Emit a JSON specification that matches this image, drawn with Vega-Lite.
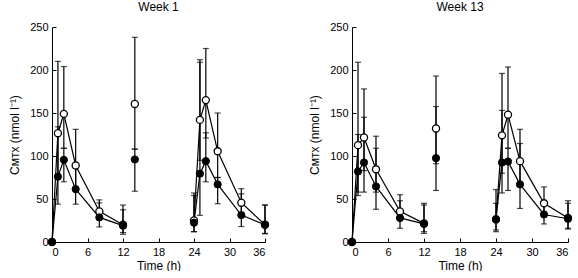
{
  "$schema": "https://vega.github.io/schema/vega-lite/v6.json",
  "padding": {"left": 8, "top": 1, "right": 0, "bottom": 0},
  "background": "white",
  "bounds": "flush",
  "spacing": 87,
  "config": {
    "font": "Liberation Sans",
    "view": {"stroke": null},
    "axis": {"labelFont": "Liberation Sans", "labelFontSize": 11, "labelColor": "black", "titleFont": "Liberation Sans", "titleFontSize": 12, "titleFontWeight": "normal", "titleColor": "black", "domainColor": "black", "tickColor": "black", "grid": false, "domainWidth": 1, "tickWidth": 1},
    "title": {"font": "Liberation Sans", "fontSize": 12, "fontWeight": "normal", "color": "black", "offset": 7}
  },
  "data": {"values": [
    {"week": "Week 1", "grp": "O", "t": 0, "v": 0, "lo": null, "hi": null, "seg": "O1"},
    {"week": "Week 1", "grp": "O", "t": 1, "v": 126.5, "lo": 76, "hi": 210, "seg": "O1"},
    {"week": "Week 1", "grp": "O", "t": 2, "v": 149, "lo": 109, "hi": 204, "seg": "O1"},
    {"week": "Week 1", "grp": "O", "t": 4, "v": 89, "lo": 61, "hi": 131, "seg": "O1"},
    {"week": "Week 1", "grp": "O", "t": 8, "v": 35.6, "lo": 28, "hi": 49, "seg": "O1"},
    {"week": "Week 1", "grp": "O", "t": 12, "v": 20, "lo": 9, "hi": 43, "seg": "O1"},
    {"week": "Week 1", "grp": "O", "t": 14, "v": 160.5, "lo": 108, "hi": 238, "seg": "O2"},
    {"week": "Week 1", "grp": "O", "t": 24, "v": 25, "lo": 12, "hi": 57, "seg": "O3"},
    {"week": "Week 1", "grp": "O", "t": 25, "v": 142, "lo": 95, "hi": 212, "seg": "O3"},
    {"week": "Week 1", "grp": "O", "t": 26, "v": 165, "lo": 121, "hi": 225, "seg": "O3"},
    {"week": "Week 1", "grp": "O", "t": 28, "v": 105.5, "lo": 75, "hi": 150, "seg": "O3"},
    {"week": "Week 1", "grp": "O", "t": 32, "v": 45.7, "lo": 32, "hi": 62, "seg": "O3"},
    {"week": "Week 1", "grp": "O", "t": 36, "v": 20, "lo": 9.5, "hi": 43, "seg": "O3"},
    {"week": "Week 1", "grp": "F", "t": 0, "v": 0, "lo": null, "hi": null, "seg": "F1"},
    {"week": "Week 1", "grp": "F", "t": 1, "v": 76, "lo": 44, "hi": 134, "seg": "F1"},
    {"week": "Week 1", "grp": "F", "t": 2, "v": 95.5, "lo": 70, "hi": 109, "seg": "F1"},
    {"week": "Week 1", "grp": "F", "t": 4, "v": 61.5, "lo": 44, "hi": 86, "seg": "F1"},
    {"week": "Week 1", "grp": "F", "t": 8, "v": 28.6, "lo": 17.5, "hi": 45.5, "seg": "F1"},
    {"week": "Week 1", "grp": "F", "t": 12, "v": 19, "lo": 11, "hi": 37.5, "seg": "F1"},
    {"week": "Week 1", "grp": "F", "t": 14, "v": 96, "lo": 59, "hi": 108, "seg": "F2"},
    {"week": "Week 1", "grp": "F", "t": 24, "v": 22.5, "lo": 12, "hi": 54, "seg": "F3"},
    {"week": "Week 1", "grp": "F", "t": 25, "v": 79.5, "lo": 31, "hi": 209, "seg": "F3"},
    {"week": "Week 1", "grp": "F", "t": 26, "v": 94, "lo": 70, "hi": 127, "seg": "F3"},
    {"week": "Week 1", "grp": "F", "t": 28, "v": 67, "lo": 44.5, "hi": 75, "seg": "F3"},
    {"week": "Week 1", "grp": "F", "t": 32, "v": 31.3, "lo": 18, "hi": 56, "seg": "F3"},
    {"week": "Week 1", "grp": "F", "t": 36, "v": 20, "lo": 10, "hi": 43, "seg": "F3"},
    {"week": "Week 13", "grp": "O", "t": 0, "v": 0, "lo": null, "hi": null, "seg": "O1"},
    {"week": "Week 13", "grp": "O", "t": 1, "v": 112.6, "lo": 58, "hi": 209, "seg": "O1"},
    {"week": "Week 13", "grp": "O", "t": 2, "v": 121.5, "lo": 83, "hi": 178, "seg": "O1"},
    {"week": "Week 13", "grp": "O", "t": 4, "v": 84.5, "lo": 58, "hi": 123, "seg": "O1"},
    {"week": "Week 13", "grp": "O", "t": 8, "v": 35.6, "lo": 25, "hi": 55, "seg": "O1"},
    {"week": "Week 13", "grp": "O", "t": 12, "v": 21.7, "lo": 10, "hi": 45, "seg": "O1"},
    {"week": "Week 13", "grp": "O", "t": 14, "v": 132, "lo": 91, "hi": 193, "seg": "O2"},
    {"week": "Week 13", "grp": "O", "t": 24, "v": 26, "lo": 12, "hi": 61, "seg": "O3"},
    {"week": "Week 13", "grp": "O", "t": 25, "v": 124, "lo": 80, "hi": 196, "seg": "O3"},
    {"week": "Week 13", "grp": "O", "t": 26, "v": 148, "lo": 109, "hi": 203.5, "seg": "O3"},
    {"week": "Week 13", "grp": "O", "t": 28, "v": 94, "lo": 67, "hi": 131, "seg": "O3"},
    {"week": "Week 13", "grp": "O", "t": 32, "v": 45, "lo": 32, "hi": 64, "seg": "O3"},
    {"week": "Week 13", "grp": "O", "t": 36, "v": 28, "lo": 15, "hi": 48, "seg": "O3"},
    {"week": "Week 13", "grp": "F", "t": 0, "v": 0, "lo": null, "hi": null, "seg": "F1"},
    {"week": "Week 13", "grp": "F", "t": 1, "v": 82, "lo": 54, "hi": 125, "seg": "F1"},
    {"week": "Week 13", "grp": "F", "t": 2, "v": 92.4, "lo": 58, "hi": 145, "seg": "F1"},
    {"week": "Week 13", "grp": "F", "t": 4, "v": 64.6, "lo": 38, "hi": 109, "seg": "F1"},
    {"week": "Week 13", "grp": "F", "t": 8, "v": 28, "lo": 16, "hi": 48, "seg": "F1"},
    {"week": "Week 13", "grp": "F", "t": 12, "v": 21, "lo": 12, "hi": 43, "seg": "F1"},
    {"week": "Week 13", "grp": "F", "t": 14, "v": 97.5, "lo": 60, "hi": 157.5, "seg": "F2"},
    {"week": "Week 13", "grp": "F", "t": 24, "v": 26.7, "lo": 14, "hi": 45, "seg": "F3"},
    {"week": "Week 13", "grp": "F", "t": 25, "v": 92.4, "lo": 57, "hi": 153, "seg": "F3"},
    {"week": "Week 13", "grp": "F", "t": 26, "v": 93.6, "lo": 60, "hi": 109, "seg": "F3"},
    {"week": "Week 13", "grp": "F", "t": 28, "v": 67, "lo": 39, "hi": 114.5, "seg": "F3"},
    {"week": "Week 13", "grp": "F", "t": 32, "v": 32, "lo": 21, "hi": 45, "seg": "F3"},
    {"week": "Week 13", "grp": "F", "t": 36, "v": 27, "lo": 16, "hi": 45, "seg": "F3"}
  ]},
  "hconcat": [
    {
      "title": "Week 1",
      "width": 213, "height": 215,
      "transform": [{"filter": "datum.week === 'Week 1'"}],
      "encoding": {
        "x": {"field": "t", "type": "quantitative", "scale": {"domain": [0, 36], "nice": false}, "axis": {"title": "Time (h)", "values": [0, 6, 12, 18, 24, 30, 36], "tickSize": -4, "labelPadding": 8, "titlePadding": 3}}
      },
      "layer": [
        {"mark": {"type": "rule", "color": "black", "strokeWidth": 1.2}, "encoding": {"y": {"field": "lo", "type": "quantitative"}, "y2": {"field": "hi"}}},
        {"mark": {"type": "tick", "orient": "horizontal", "color": "black", "size": 6, "thickness": 1.2}, "encoding": {"y": {"field": "lo", "type": "quantitative"}}},
        {"mark": {"type": "tick", "orient": "horizontal", "color": "black", "size": 6, "thickness": 1.2}, "encoding": {"y": {"field": "hi", "type": "quantitative"}}},
        {"mark": {"type": "line", "color": "black", "strokeWidth": 1.2}, "encoding": {"y": {"field": "v", "type": "quantitative"}, "detail": {"field": "seg"}}},
        {"transform": [{"filter": "datum.grp === 'O'"}], "mark": {"type": "point", "shape": "circle", "filled": true, "fill": "white", "stroke": "black", "strokeWidth": 1.3, "size": 50, "opacity": 1}, "encoding": {"y": {"field": "v", "type": "quantitative"}}},
        {"transform": [{"filter": "datum.grp === 'F'"}], "mark": {"type": "point", "shape": "circle", "filled": true, "fill": "black", "stroke": "black", "strokeWidth": 1, "size": 52, "opacity": 1}, "encoding": {"y": {"field": "v", "type": "quantitative", "scale": {"domain": [0, 250], "nice": false}, "axis": {"title": "Cᴍᴛx (nmol l⁻¹)", "values": [0, 50, 100, 150, 200, 250], "tickSize": -4, "labelPadding": 8, "titlePadding": 8}}}}
      ]
    },
    {
      "title": "Week 13",
      "width": 216, "height": 215,
      "transform": [{"filter": "datum.week === 'Week 13'"}],
      "encoding": {
        "x": {"field": "t", "type": "quantitative", "scale": {"domain": [0, 36], "nice": false}, "axis": {"title": "Time (h)", "values": [0, 6, 12, 18, 24, 30, 36], "tickSize": -4, "labelPadding": 8, "titlePadding": 3}}
      },
      "layer": [
        {"mark": {"type": "rule", "color": "black", "strokeWidth": 1.2}, "encoding": {"y": {"field": "lo", "type": "quantitative"}, "y2": {"field": "hi"}}},
        {"mark": {"type": "tick", "orient": "horizontal", "color": "black", "size": 6, "thickness": 1.2}, "encoding": {"y": {"field": "lo", "type": "quantitative"}}},
        {"mark": {"type": "tick", "orient": "horizontal", "color": "black", "size": 6, "thickness": 1.2}, "encoding": {"y": {"field": "hi", "type": "quantitative"}}},
        {"mark": {"type": "line", "color": "black", "strokeWidth": 1.2}, "encoding": {"y": {"field": "v", "type": "quantitative"}, "detail": {"field": "seg"}}},
        {"transform": [{"filter": "datum.grp === 'O'"}], "mark": {"type": "point", "shape": "circle", "filled": true, "fill": "white", "stroke": "black", "strokeWidth": 1.3, "size": 50, "opacity": 1}, "encoding": {"y": {"field": "v", "type": "quantitative"}}},
        {"transform": [{"filter": "datum.grp === 'F'"}], "mark": {"type": "point", "shape": "circle", "filled": true, "fill": "black", "stroke": "black", "strokeWidth": 1, "size": 52, "opacity": 1}, "encoding": {"y": {"field": "v", "type": "quantitative", "scale": {"domain": [0, 250], "nice": false}, "axis": {"title": "Cᴍᴛx (nmol l⁻¹)", "values": [0, 50, 100, 150, 200, 250], "tickSize": -4, "labelPadding": 8, "titlePadding": 8}}}}
      ]
    }
  ]
}
